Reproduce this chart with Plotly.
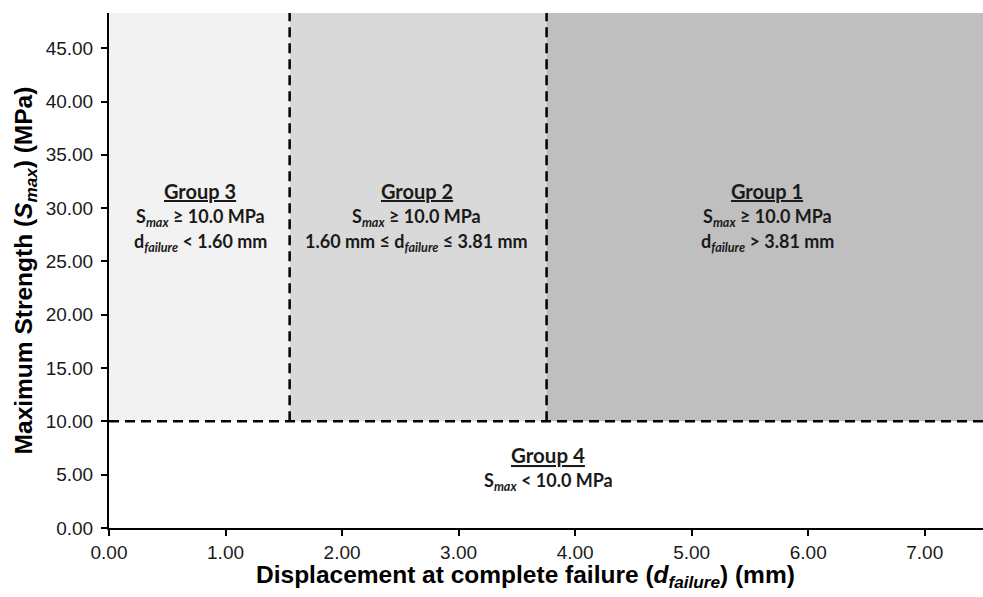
import plotly.graph_objects as go

# Region boundaries
x_bounds = [0.0, 1.55, 3.755, 7.5]   # x positions of boundaries
y_threshold = 10.0
y_top = 48.3
region_names = ["Group 3", "Group 2", "Group 1"]
region_colors = ["#f2f2f2", "#d9d9d9", "#bfbfbf"]

label_font = "Lato, 'Open Sans', sans-serif"
axis_font = "Liberation Sans, Arial, sans-serif"

fig = go.Figure()

# shaded regions
for i, name in enumerate(region_names):
    x0, x1 = x_bounds[i], x_bounds[i + 1]
    fig.add_trace(go.Scatter(
        x=[x0, x1, x1, x0, x0],
        y=[y_threshold, y_threshold, y_top, y_top, y_threshold],
        fill="toself", fillcolor=region_colors[i],
        line=dict(width=0), mode="lines", hoverinfo="skip", showlegend=False))

dash_line = dict(color="black", width=2.5, dash="10px,6px")
# horizontal threshold
fig.add_trace(go.Scatter(x=[x_bounds[0], x_bounds[-1]], y=[y_threshold, y_threshold],
                         mode="lines", line=dash_line, showlegend=False, hoverinfo="skip"))
# vertical boundaries
for xb in x_bounds[1:3]:
    fig.add_trace(go.Scatter(x=[xb, xb], y=[y_threshold, y_top],
                             mode="lines", line=dash_line, showlegend=False, hoverinfo="skip"))

# labels
labels = [
    (0.785, ["<u>Group 3</u>", "S<sub><i>max</i></sub> ≥ 10.0 MPa", "d<sub><i>failure</i></sub> < 1.60 mm"]),
    (2.64, ["<u>Group 2</u>", "S<sub><i>max</i></sub> ≥ 10.0 MPa", "1.60 mm ≤ d<sub><i>failure</i></sub> ≤ 3.81 mm"]),
    (5.65, ["<u>Group 1</u>", "S<sub><i>max</i></sub> ≥ 10.0 MPa", "d<sub><i>failure</i></sub> > 3.81 mm"]),
]
line_y = [31.6, 29.1, 26.8]
for xc, lines in labels:
    for j, t in enumerate(lines):
        fig.add_annotation(x=xc, y=line_y[j], text="<b>" + t + "</b>", showarrow=False,
                           font=dict(family=label_font, size=20 if j == 0 else 18, color="#1a1a1a"))
fig.add_annotation(x=3.77, y=6.8, text="<b><u>Group 4</u></b>", showarrow=False,
                   font=dict(family=label_font, size=20.5, color="#1a1a1a"))
fig.add_annotation(x=3.77, y=4.4, text="<b>S<sub><i>max</i></sub> < 10.0 MPa</b>", showarrow=False,
                   font=dict(family=label_font, size=18, color="#1a1a1a"))

# x-axis title (placed slightly left of the plot centre, as in the reference)
fig.add_annotation(xref="paper", yref="paper", x=0.476, y=-0.095, xanchor="center", yanchor="middle",
                   text="<b>Displacement at complete failure (<i>d<sub>failure</sub></i>) (mm)</b>",
                   showarrow=False, font=dict(family=axis_font, size=24.5, color="black"))

axis_common = dict(showline=True, linecolor="black", linewidth=2, ticks="outside",
                   ticklen=6, tickwidth=2, tickcolor="black", showgrid=False, zeroline=False,
                   tickformat=".2f", tickfont=dict(family=axis_font, size=19, color="#1a1a1a"))

fig.update_layout(
    width=983, height=597,
    margin=dict(l=109, r=0, t=13, b=69),
    paper_bgcolor="white", plot_bgcolor="white",
    xaxis=dict(range=[0, 7.5], dtick=1, tick0=0, **axis_common),
    yaxis=dict(range=[0, y_top], dtick=5, tick0=0, ticklabelstandoff=4,
               title=dict(text="<b>Maximum Strength (<i>S<sub>max</sub></i>) (MPa)</b>",
                          font=dict(family=axis_font, size=24.5, color="black"), standoff=6),
               **axis_common),
)

fig.write_html("out.html", config={"displayModeBar": False},
               post_script="document.body.style.margin='0';document.body.style.overflow='hidden';")
